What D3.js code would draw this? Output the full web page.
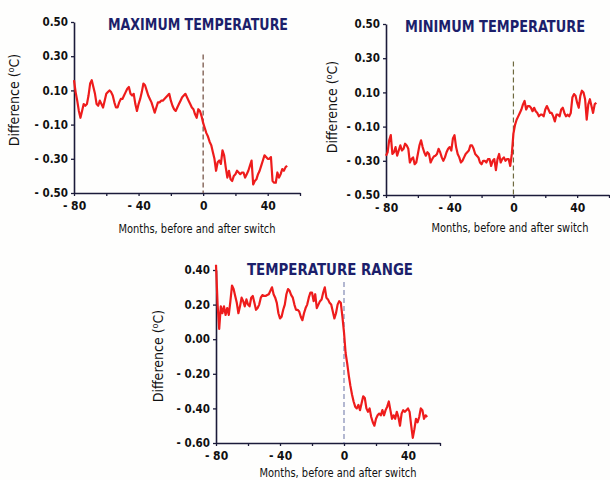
<!DOCTYPE html>
<html>
<head>
<meta charset="utf-8">
<script src="https://cdn.jsdelivr.net/npm/d3@7"></script>
<style>
  body { margin: 0; background: #fff; }
  text { font-family: "Liberation Sans Narrow", "DejaVu Sans Condensed", "Roboto", sans-serif; }
</style>
</head>
<body>
<script>
// months relative to the switch
let months = d3.range(-80, 53)

let xTicks = [-80, -60, -40, -20, 0, 20, 40, 60]
let xTickLabels = { '-80': '- 80', '-40': '- 40', '0': '0', '40': '40' }
let yTicksTop = [0.5, 0.3, 0.1, -0.1, -0.3, -0.5]
let yTicksRange = [0.4, 0.2, 0, -0.2, -0.4, -0.6]

let maxTemp = [
  0.16, 0.09, 0.04, -0.02, -0.06, -0.02, 0.02, 0.01, 0.02, 0.07,
  0.14, 0.16, 0.12, 0.08, 0.02, 0.01, 0.04, 0.02, 0.00, 0.04,
  0.08, 0.09, 0.10, 0.09, 0.07, 0.03, 0.00, 0.00, 0.03, 0.05,
  0.05, 0.07, 0.09, 0.11, 0.12, 0.08, 0.07, 0.08, 0.02, -0.02,
  0.02, 0.05, 0.09, 0.14, 0.13, 0.10, 0.07, 0.05, 0.03, 0.00,
  -0.03, 0.00, 0.03, 0.03, 0.04, 0.04, 0.05, 0.06, 0.07, 0.08,
  0.04, 0.01, -0.01, -0.02, 0.00, 0.02, 0.04, 0.06, 0.07, 0.08,
  0.06, 0.04, 0.02, 0.00, -0.01, -0.04, -0.06, -0.01, -0.02, -0.05,
  -0.09,
  -0.12, -0.15, -0.17, -0.20, -0.22, -0.26, -0.30, -0.37, -0.32, -0.31,
  -0.33, -0.25, -0.28, -0.35, -0.41, -0.37, -0.42, -0.43, -0.40, -0.39,
  -0.37, -0.38, -0.39, -0.38, -0.38, -0.41, -0.39, -0.37, -0.34, -0.31,
  -0.45, -0.43, -0.42, -0.39, -0.37, -0.34, -0.31, -0.28, -0.29, -0.30,
  -0.30, -0.29, -0.43, -0.44, -0.44, -0.38, -0.41, -0.39, -0.36, -0.37,
  -0.35, -0.34
]

let minTemp = [
  -0.27, -0.25, -0.18, -0.15, -0.26, -0.25, -0.22, -0.27, -0.24, -0.21,
  -0.24, -0.23, -0.20, -0.21, -0.23, -0.31, -0.29, -0.28, -0.32, -0.31,
  -0.26, -0.21, -0.18, -0.22, -0.25, -0.27, -0.25, -0.26, -0.31, -0.29,
  -0.275, -0.27, -0.26, -0.23, -0.25, -0.28, -0.30, -0.28, -0.25, -0.23,
  -0.22, -0.24, -0.17, -0.15, -0.22, -0.26, -0.28, -0.31, -0.30, -0.28,
  -0.26, -0.25, -0.24, -0.21, -0.21, -0.23, -0.26, -0.27, -0.28, -0.31,
  -0.32, -0.30, -0.30, -0.31, -0.29, -0.29, -0.33, -0.30, -0.29, -0.355,
  -0.29, -0.26, -0.31, -0.29, -0.28, -0.30, -0.29, -0.29, -0.33, -0.26,
  -0.14,
  -0.09, -0.06, -0.04, -0.02, 0.00, 0.03, 0.05, 0.00, 0.02, 0.02,
  0.01, -0.01, 0.01, -0.01, -0.02, -0.04, -0.03, -0.03, -0.04, 0.00,
  0.02, 0.00, -0.02, -0.02, -0.04, -0.07, -0.03, -0.03, -0.04, 0.00,
  0.01, -0.02, -0.04, -0.03, -0.04, -0.02, 0.07, 0.09, 0.08, 0.04,
  0.01, 0.08, 0.11, 0.10, 0.06, -0.06, 0.03, 0.06, 0.02, -0.02,
  0.03, 0.04
]

let tempRange = [
  0.43, 0.20, 0.06, 0.19, 0.15, 0.19, 0.14, 0.18, 0.14, 0.22,
  0.31, 0.29, 0.25, 0.21, 0.15, 0.19, 0.24, 0.22, 0.19, 0.23,
  0.20, 0.19, 0.24, 0.25, 0.21, 0.17, 0.18, 0.20, 0.24, 0.255,
  0.25, 0.25, 0.255, 0.26, 0.28, 0.30, 0.26, 0.24, 0.21, 0.15,
  0.12, 0.13, 0.17, 0.20, 0.26, 0.29, 0.28, 0.255, 0.24, 0.20,
  0.17, 0.17, 0.16, 0.13, 0.11, 0.15, 0.18, 0.20, 0.24, 0.27,
  0.27, 0.22, 0.26, 0.18, 0.20, 0.22, 0.23, 0.27, 0.30, 0.24,
  0.23, 0.21, 0.20, 0.16, 0.12, 0.15, 0.20, 0.22, 0.21, 0.13,
  0.04,
  -0.08, -0.14, -0.21, -0.27, -0.32, -0.36, -0.39, -0.40, -0.38, -0.41,
  -0.37, -0.33, -0.34, -0.40, -0.42, -0.40, -0.45, -0.48, -0.50, -0.46,
  -0.44, -0.43, -0.44, -0.41, -0.44, -0.41, -0.39, -0.36, -0.41, -0.46,
  -0.44, -0.46, -0.42, -0.45, -0.50, -0.43, -0.41, -0.42, -0.41, -0.40,
  -0.42, -0.50, -0.57, -0.52, -0.46, -0.48, -0.45, -0.40, -0.41, -0.46,
  -0.44, -0.45
]

let titles = ['MAXIMUM TEMPERATURE', 'MINIMUM TEMPERATURE', 'TEMPERATURE RANGE']

let width = 610
let height = 480

let svg = d3.select('body').append('svg')
  .attr('width', width)
  .attr('height', height)

svg.append('rect').attr('width', width).attr('height', height).attr('fill', '#fefefd')

let panels = [
  { title: titles[0], values: maxTemp, yTicks: yTicksTop, yDomain: [-0.5, 0.5], dashTop: 0.31,
    x0: 74, x1: 300, yTop: 22, yBot: 193, titleX: 198, titleY: 30, titleW: 180, dashColor: '#6e4a3c',
    yLabelX: 19, yLabelY: 100, xLabelX: 197, xLabelY: 233 },
  { title: titles[1], values: minTemp, yTicks: yTicksTop, yDomain: [-0.5, 0.5], dashTop: 0.28,
    x0: 386, x1: 609, yTop: 24, yBot: 195, titleX: 495, titleY: 32, titleW: 180, dashColor: '#6f6a40',
    yLabelX: 337, yLabelY: 107, xLabelX: 510, xLabelY: 232 },
  { title: titles[2], values: tempRange, yTicks: yTicksRange, yDomain: [-0.6, 0.4], dashTop: 0.33,
    x0: 216, x1: 440, yTop: 270, yBot: 443, titleX: 330, titleY: 275, titleW: 166, dashColor: '#8189b4',
    yLabelX: 163, yLabelY: 356, xLabelX: 338, xLabelY: 477 }
]

panels.forEach(p => drawPanel(p))

function drawPanel(p) {
  let x = d3.scaleLinear().domain([-80, 60]).range([p.x0, p.x1])
  let y = d3.scaleLinear().domain(p.yDomain).range([p.yBot, p.yTop])
  let g = svg.append('g')
  let axisColor = '#1b1b3a'

  // x axis
  let xAxis = d3.axisBottom(x)
    .tickValues(xTicks)
    .tickSizeInner(3)
    .tickSizeOuter(0)
    .tickFormat(d => xTickLabels[d] || '')
  let xg = g.append('g').attr('transform', `translate(0,${p.yBot})`).call(xAxis)
  xg.select('.domain').attr('stroke', axisColor).attr('stroke-width', 1.6)
  xg.selectAll('.tick line').attr('stroke', axisColor).attr('stroke-width', 1.3)
  xg.selectAll('.tick text')
    .attr('y', 8)
    .attr('fill', '#111')
    .attr('font-size', 12)
    .attr('font-weight', 'bold')
    .attr('font-family', '"Liberation Sans Narrow", "DejaVu Sans Condensed", sans-serif')

  // y axis
  let yAxis = d3.axisLeft(y)
    .tickValues(p.yTicks)
    .tickSizeInner(3)
    .tickSizeOuter(0)
    .tickFormat(d => (d < 0 ? '- ' : '') + d3.format('.2f')(Math.abs(d)))
  let yg = g.append('g').attr('transform', `translate(${p.x0},0)`).call(yAxis)
  yg.select('.domain').attr('stroke', axisColor).attr('stroke-width', 1.6)
  yg.selectAll('.tick line').attr('stroke', axisColor).attr('stroke-width', 1.3)
  yg.selectAll('.tick text')
    .attr('x', -6)
    .attr('fill', '#111')
    .attr('font-size', 11.5)
    .attr('font-weight', 'bold')
    .attr('font-family', '"Liberation Sans Narrow", "DejaVu Sans Condensed", sans-serif')

  // switch marker
  g.append('line')
    .attr('x1', x(0)).attr('x2', x(0))
    .attr('y1', y(p.dashTop)).attr('y2', p.yBot)
    .attr('stroke', p.dashColor)
    .attr('stroke-width', 1.2)
    .attr('stroke-dasharray', '5,3')

  // series
  let line = d3.line()
    .x((d, i) => x(months[i]))
    .y(d => y(d))
    .curve(d3.curveLinear)

  g.append('path')
    .attr('fill', 'none')
    .attr('stroke', '#ee1c1c')
    .attr('stroke-width', 2.2)
    .attr('stroke-linejoin', 'round')
    .attr('d', line(p.values))

  // title
  g.append('text')
    .attr('x', p.titleX)
    .attr('y', p.titleY)
    .attr('text-anchor', 'middle')
    .attr('fill', '#1c1f6b')
    .attr('font-size', 16.5)
    .attr('font-weight', 'bold')
    .attr('textLength', p.titleW)
    .attr('lengthAdjust', 'spacingAndGlyphs')
    .text(p.title)

  // y label
  let yl = g.append('text')
    .attr('transform', `translate(${p.yLabelX},${p.yLabelY}) rotate(-90)`)
    .attr('text-anchor', 'middle')
    .attr('fill', '#111')
    .attr('font-size', 14)
  yl.append('tspan').text('Difference (')
  yl.append('tspan').attr('font-size', 9).attr('dy', -5).text('o')
  yl.append('tspan').attr('dy', 5).text('C)')

  // x label
  g.append('text')
    .attr('x', p.xLabelX)
    .attr('y', p.xLabelY)
    .attr('text-anchor', 'middle')
    .attr('fill', '#111')
    .attr('font-size', 12.5)
    .attr('textLength', 157)
    .attr('lengthAdjust', 'spacingAndGlyphs')
    .text('Months, before and after switch')
}
</script>
</body>
</html>
